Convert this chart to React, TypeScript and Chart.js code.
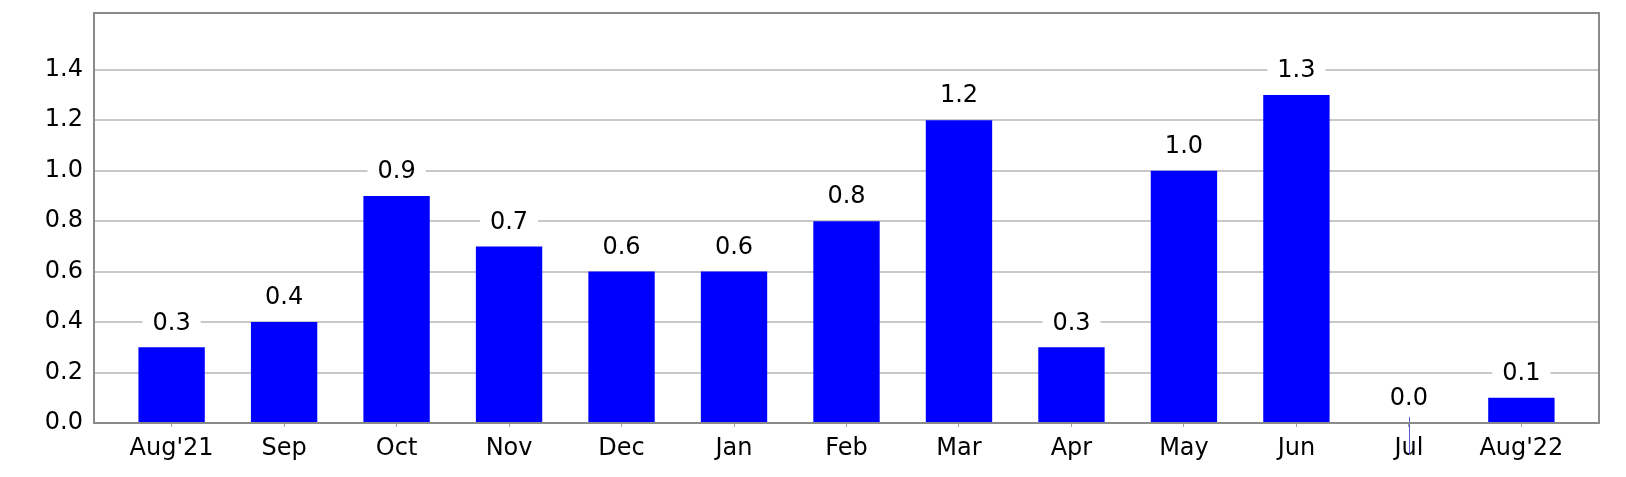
import React, { useEffect, useRef } from "react";
import { Chart, registerables } from "chart.js";

Chart.register(...registerables);

const categories = ["Aug'21", "Sep", "Oct", "Nov", "Dec", "Jan", "Feb", "Mar", "Apr", "May", "Jun", "Jul", "Aug'22"];
const values = [0.3, 0.4, 0.9, 0.7, 0.6, 0.6, 0.8, 1.2, 0.3, 1.0, 1.3, 0.0, 0.1];
const yTicks = [0, 0.2, 0.4, 0.6, 0.8, 1.0, 1.2, 1.4];

const FONT = "'DejaVu Sans', sans-serif";

const labelPlugin = {
  id: "valueLabels",
  afterDatasetsDraw(chart: any) {
    const ctx = chart.ctx;
    const meta = chart.getDatasetMeta(0);
    ctx.save();
    ctx.font = `24px ${FONT}`;
    ctx.textAlign = "center";
    ctx.textBaseline = "middle";
    meta.data.forEach((bar: any, i: number) => {
      const txt = values[i].toFixed(1);
      const w = ctx.measureText(txt).width;
      const cy = bar.y - 25;
      ctx.fillStyle = "#ffffff";
      ctx.fillRect(bar.x - w / 2 - 10, cy - 13, w + 20, 26);
      ctx.fillStyle = "#000000";
      ctx.fillText(txt, bar.x, cy + 1);
    });
    const xs = chart.scales.x;
    const ys = chart.scales.y;
    values.forEach((v, i) => {
      if (v === 0) {
        const x = Math.round(xs.getPixelForValue(i)) + 0.5;
        const y0 = ys.getPixelForValue(0);
        ctx.strokeStyle = "#5a5ad0";
        ctx.lineWidth = 1;
        ctx.beginPath();
        ctx.moveTo(x, y0 - 6);
        ctx.lineTo(x, y0 + 32);
        ctx.stroke();
      }
    });
    ctx.restore();
  },
  afterDraw(chart: any) {
    const { left, top, right, bottom } = chart.chartArea;
    const ctx = chart.ctx;
    ctx.save();
    ctx.strokeStyle = "#8a8a8a";
    ctx.lineWidth = 2;
    ctx.strokeRect(left, top, right - left, bottom - top);
    ctx.restore();
  },
};

export default function App() {
  const ref = useRef<HTMLCanvasElement | null>(null);
  useEffect(() => {
    if (!ref.current) return;
    const chart = new Chart(ref.current, {
      type: "bar",
      data: {
        datasets: [
          {
            data: values.map((v, i) => ({ x: i, y: v })),
            backgroundColor: "#0000ff",
            borderWidth: 0,
            barPercentage: 0.59,
            categoryPercentage: 1.0,
          },
        ],
      },
      options: {
        animation: false,
        responsive: true,
        maintainAspectRatio: false,
        layout: { padding: { top: 13, right: 27, left: 0, bottom: 0 } },
        plugins: { legend: { display: false }, tooltip: { enabled: false } },
        scales: {
          x: {
            type: "linear",
            offset: false,
            min: -0.69,
            max: 12.69,
            afterBuildTicks: (scale: any) => {
              scale.ticks = categories.map((_, i) => ({ value: i }));
            },
            afterFit: (scale: any) => {
              scale.height = 54;
              scale.paddingLeft = 0;
              scale.paddingRight = 0;
            },
            ticks: {
              autoSkip: false,
              maxRotation: 0,
              color: "#000000",
              padding: 7,
              font: { family: FONT, size: 24 },
              callback: (v: any) => categories[Math.round(Number(v))] ?? "",
            },
            grid: {
              display: true,
              offset: false,
              drawOnChartArea: false,
              drawTicks: true,
              tickLength: 4,
              color: "#a0a0a0",
            },
            border: { display: false },
          },
          y: {
            min: 0,
            max: 1.625,
            afterBuildTicks: (scale: any) => {
              scale.ticks = yTicks.map((v) => ({ value: v }));
            },
            afterFit: (scale: any) => {
              scale.width = 94;
              scale.paddingTop = 0;
              scale.paddingBottom = 0;
            },
            ticks: {
              color: "#000000",
              padding: 11,
              font: { family: FONT, size: 24 },
              callback: (v: any) => Number(v).toFixed(1),
            },
            grid: {
              color: "#c8c8c8",
              lineWidth: 2,
              drawTicks: false,
            },
            border: { display: false },
          },
        },
      },
      plugins: [labelPlugin],
    } as any);
    return () => chart.destroy();
  }, []);
  return (
    <div style={{ position: "absolute", left: 0, top: 0, width: 1626, height: 477, background: "#fff" }}>
      <canvas ref={ref} />
    </div>
  );
}
